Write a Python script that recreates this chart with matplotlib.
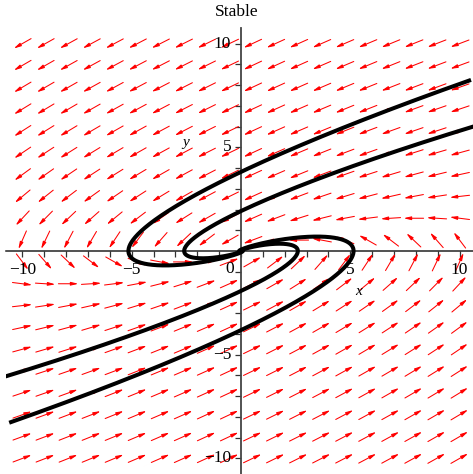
import numpy as np
import matplotlib
matplotlib.use("Agg")
import matplotlib.pyplot as plt
from matplotlib.patches import FancyArrowPatch

# ---- data ----
title = "Stable"
# linear system  x' = a*x + b*y ,  y' = c*x + d*y
sys_a, sys_b, sys_c, sys_d = 0.0, -10.0, 1.0, -5.0
# direction-field grid
grid_x = np.linspace(-10, 10, 20)
grid_y = np.linspace(-10, 10, 20)
# trajectories: a point each curve passes through, and x where its far end stops
start_x = [-5.15, -2.6, 2.6, 5.15]
start_y = [0.0, 0.0, 0.0, 0.0]
end_x = [10.5, 10.9, -10.8, -10.55]
xtick_vals = [-10, -5, 5, 10]
xtick_text = ["\u221210", "\u22125", "5", "10"]
ytick_vals = [-10, -5, 5, 10]
ytick_text = ["\u221210", "\u22125", "5", "10"]

serif = "Liberation Serif"

def field(x, y):
    return sys_a * x + sys_b * y, sys_c * x + sys_d * y

def rk4_path(x0, y0, dt, nmax, stop):
    xs, ys = [x0], [y0]
    x, y = x0, y0
    for _ in range(nmax):
        k1 = field(x, y)
        k2 = field(x + dt / 2 * k1[0], y + dt / 2 * k1[1])
        k3 = field(x + dt / 2 * k2[0], y + dt / 2 * k2[1])
        k4 = field(x + dt * k3[0], y + dt * k3[1])
        x = x + dt / 6 * (k1[0] + 2 * k2[0] + 2 * k3[0] + k4[0])
        y = y + dt / 6 * (k1[1] + 2 * k2[1] + 2 * k3[1] + k4[1])
        xs.append(x)
        ys.append(y)
        if stop(x, y):
            break
    return np.array(xs), np.array(ys)

W, H = 473, 474
fig = plt.figure(figsize=(W / 100, H / 100), dpi=100)
ax = fig.add_axes([6 / W, 0, 470 / W, 446 / H])
ax.set_xlim(-10.75, 10.75)
ax.set_ylim(-10.75, 10.75)
ax.patch.set_alpha(0)

# pixel scale for arrow normalisation
sx = 470 / 21.5
sy = 446 / 21.5
L = 20.0  # arrow length in pixels

for gx in grid_x:
    for gy in grid_y:
        u, v = field(gx, gy)
        pu, pv = u * sx, v * sy
        n = np.hypot(pu, pv)
        if n == 0:
            continue
        dx = (pu / n) * L / sx
        dy = (pv / n) * L / sy
        arr = FancyArrowPatch((gx - dx / 2, gy - dy / 2), (gx + dx / 2, gy + dy / 2),
                              arrowstyle="-|>,head_length=4.2,head_width=1.0",
                              mutation_scale=1, lw=0.75, color="#ff0000",
                              shrinkA=0, shrinkB=0, zorder=2)
        ax.add_patch(arr)

# trajectories
for x0, y0, xe in zip(start_x, start_y, end_x):
    fx, fy = rk4_path(x0, y0, 1e-3, 20000, lambda x, y: np.hypot(x, y) < 1e-3)
    if xe > 0:
        stop = lambda x, y, xe=xe: x >= xe
    else:
        stop = lambda x, y, xe=xe: x <= xe
    bx, by = rk4_path(x0, y0, -1e-3, 20000, stop)
    px = np.concatenate([bx[::-1], fx[1:]])
    py = np.concatenate([by[::-1], fy[1:]])
    ax.plot(px, py, color="black", lw=2.9, solid_capstyle="butt", zorder=4)

# axes through origin
for s in ["top", "right"]:
    ax.spines[s].set_visible(False)
ax.spines["left"].set_position(("data", 0))
ax.spines["bottom"].set_position(("data", 0))
ax.spines["left"].set_color("#444444")
ax.spines["bottom"].set_color("#222222")
ax.spines["left"].set_linewidth(1.3)
ax.spines["bottom"].set_linewidth(1.1)
ax.spines["left"].set_zorder(3)
ax.spines["bottom"].set_zorder(3)
ax.set_xticks(np.arange(-10, 11, 1))
ax.set_yticks(np.arange(-10, 11, 1))
ax.set_xticklabels([])
ax.set_yticklabels([])
ax.tick_params(axis="both", direction="out", length=4, width=0.9, color="#333333")

for v, t in zip(xtick_vals, xtick_text):
    ax.text(v, -0.92, t, ha="center", va="center", fontsize=12.5, family=serif, zorder=5)
for v, t in zip(ytick_vals, ytick_text):
    ax.text(-0.45, v, t, ha="right", va="center", fontsize=12.5, family=serif, zorder=5)
ax.text(-0.5, -0.85, "0", ha="center", va="center", fontsize=12.5, family=serif, zorder=5)

ax.text(5.4, -1.93, "x", ha="center", va="center", fontsize=11, style="italic", family=serif, zorder=5)
ax.text(-2.52, 5.25, "y", ha="center", va="center", fontsize=11, style="italic", family=serif, zorder=5)

fig.text(237 / W, 1 - 12 / H, title, ha="center", va="center", fontsize=12.5, family=serif)

fig.savefig("out.png", dpi=100)
